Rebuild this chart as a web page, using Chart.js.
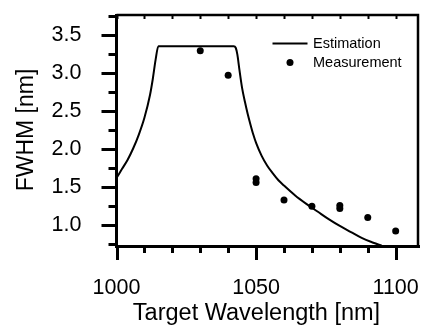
<!DOCTYPE html>
<html>
<head>
<meta charset="utf-8">
<script src="https://cdn.jsdelivr.net/npm/chart.js@4/dist/chart.umd.min.js"></script>
<style>
html,body{margin:0;padding:0;background:#fff;}
canvas{display:block;}
</style>
</head>
<body>
<canvas id="c" width="422" height="325"></canvas>
<script>
// ---- data ----
const estWavelength = [1000, 1002, 1004, 1006, 1008, 1010, 1012, 1013, 1014, 1015, 1042, 1042.7, 1043.3, 1044, 1045, 1046, 1047, 1048, 1049, 1050, 1052, 1054, 1056, 1058, 1060, 1064, 1068, 1072, 1076, 1080, 1084, 1088, 1092, 1095];
const estFWHM       = [1.62, 1.74, 1.86, 2.01, 2.19, 2.41, 2.71, 2.92, 3.17, 3.35, 3.35, 3.33, 3.24, 3.05, 2.80, 2.62, 2.46, 2.32, 2.19, 2.08, 1.91, 1.78, 1.68, 1.59, 1.52, 1.39, 1.28, 1.18, 1.08, 0.99, 0.91, 0.83, 0.77, 0.73];
const measWavelength = [1030, 1040, 1050, 1050, 1060, 1070, 1080, 1080, 1090, 1100];
const measFWHM       = [3.29, 2.97, 1.61, 1.56, 1.33, 1.25, 1.26, 1.22, 1.10, 0.925];
const seriesLabels = ['Estimation', 'Measurement'];
const xTitle = 'Target Wavelength [nm]';
const yTitle = 'FWHM [nm]';

const FONT = "'Liberation Sans', Arial, Helvetica, sans-serif";

const estPoints = estWavelength.map((x, i) => ({x, y: estFWHM[i]}));
const measPoints = measWavelength.map((x, i) => ({x, y: measFWHM[i]}));

const framePlugin = {
  id: 'frame',
  afterDraw(chart) {
    const ctx = chart.ctx;
    const xs = chart.scales.x, ys = chart.scales.y;
    const {left, right, top, bottom} = chart.chartArea;
    ctx.save();
    ctx.strokeStyle = '#000';
    ctx.lineCap = 'butt';
    xs.ticks.forEach(t => {
      const px = Math.round(xs.getPixelForValue(t.value)) + 0.5;
      const major = Math.abs(t.value % 50) < 1e-6;
      ctx.lineWidth = 3;
      ctx.beginPath();
      ctx.moveTo(px, bottom);
      ctx.lineTo(px, bottom + (major ? 15 : 8));
      ctx.stroke();
      ctx.lineWidth = 2;
      ctx.beginPath();
      ctx.moveTo(px, top);
      ctx.lineTo(px, top + 4);
      ctx.stroke();
    });
    ys.ticks.forEach(t => {
      const py = Math.round(ys.getPixelForValue(t.value)) + 0.5;
      const v2 = t.value * 2;
      const major = Math.abs(v2 - Math.round(v2)) < 1e-6;
      ctx.lineWidth = 3;
      ctx.beginPath();
      ctx.moveTo(left, py);
      ctx.lineTo(left - (major ? 15 : 8), py);
      ctx.stroke();
    });
    ctx.lineWidth = 2.5;
    ctx.beginPath();
    ctx.moveTo(left, top);
    ctx.lineTo(right, top);
    ctx.lineTo(right, bottom);
    ctx.stroke();
    ctx.lineWidth = 3;
    ctx.beginPath();
    ctx.moveTo(left, top - 1);
    ctx.lineTo(left, bottom + 1.5);
    ctx.lineTo(right + 2, bottom + 1.5);
    ctx.stroke();

    // x-axis title (slightly left of the plot centre, as in the reference)
    ctx.fillStyle = '#000';
    ctx.font = '23.5px ' + FONT;
    ctx.textAlign = 'center';
    ctx.textBaseline = 'middle';
    ctx.fillText(xTitle, 256.5, 314);

    // legend
    const ds0 = chart.data.datasets[0], ds1 = chart.data.datasets[1];
    ctx.font = '14.5px ' + FONT;
    ctx.textAlign = 'left';
    ctx.lineWidth = ds0.borderWidth;
    ctx.strokeStyle = ds0.borderColor;
    ctx.beginPath();
    ctx.moveTo(272.5, 43.5);
    ctx.lineTo(307.5, 43.5);
    ctx.stroke();
    ctx.fillText(ds0.label, 313, 44);
    ctx.fillStyle = ds1.backgroundColor;
    ctx.beginPath();
    ctx.arc(290, 62.5, ds1.pointRadius, 0, Math.PI * 2);
    ctx.fill();
    ctx.fillStyle = '#000';
    ctx.fillText(ds1.label, 313, 62.5);
    ctx.restore();
  }
};

new Chart(document.getElementById('c'), {
  type: 'scatter',
  data: {
    datasets: [
      {
        label: seriesLabels[0],
        data: estPoints,
        showLine: true,
        borderColor: '#000',
        backgroundColor: '#000',
        borderWidth: 2,
        pointRadius: 0,
        cubicInterpolationMode: 'monotone'
      },
      {
        label: seriesLabels[1],
        data: measPoints,
        showLine: false,
        borderColor: '#000',
        backgroundColor: '#000',
        borderWidth: 0,
        pointRadius: 3.5
      }
    ]
  },
  options: {
    responsive: false,
    animation: false,
    layout: {padding: {left: 0, right: 3, top: 15, bottom: 0}},
    plugins: {legend: {display: false}, tooltip: {enabled: false}},
    scales: {
      x: {
        type: 'linear',
        min: 1000,
        max: 1108,
        grid: {display: false},
        border: {display: false},
        afterFit(s) { s.height = 80; s.paddingLeft = 0; s.paddingRight = 0; },
        ticks: {
          stepSize: 10,
          includeBounds: false,
          autoSkip: false,
          maxRotation: 0,
          padding: 22.5,
          color: '#000',
          font: {family: FONT, size: 21.5},
          callback: v => (Math.abs(v % 50) < 1e-6 ? String(v) : '')
        },
        title: {display: false, text: xTitle}
      },
      y: {
        type: 'linear',
        min: 0.74,
        max: 3.76,
        grid: {display: false},
        border: {display: false},
        afterFit(s) { s.width = 116.5; s.paddingTop = 0; s.paddingBottom = 0; },
        ticks: {
          stepSize: 0.25,
          includeBounds: false,
          autoSkip: false,
          padding: 27,
          color: '#000',
          font: {family: FONT, size: 21.5},
          callback: v => (Math.abs(v * 2 - Math.round(v * 2)) < 1e-6 ? v.toFixed(1) : '')
        },
        title: {
          display: true,
          text: yTitle,
          color: '#000',
          font: {family: FONT, size: 23, lineHeight: '20px'},
          padding: {top: 17, bottom: 0}
        }
      }
    }
  },
  plugins: [framePlugin]
});
</script>
</body>
</html>
